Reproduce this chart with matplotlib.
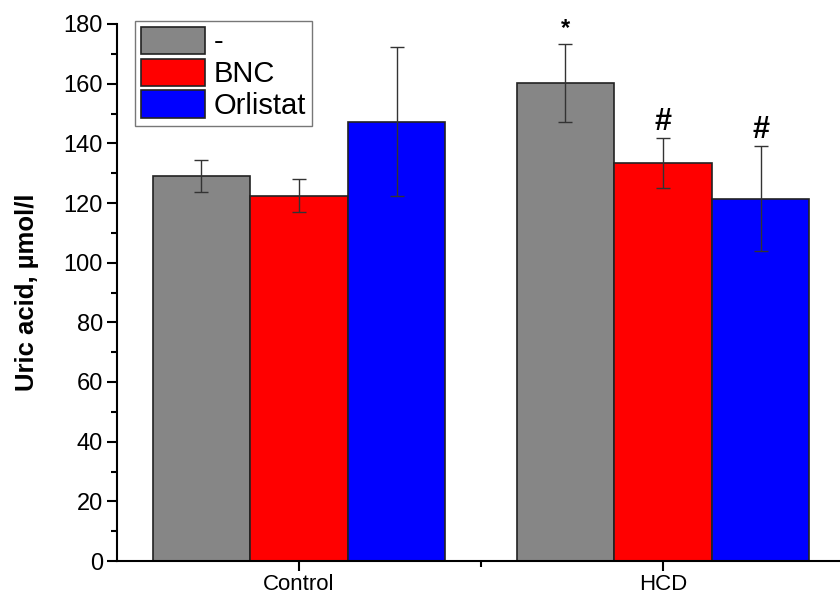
import matplotlib
matplotlib.use("Agg")
import matplotlib.pyplot as plt
import numpy as np
from matplotlib.ticker import MultipleLocator, FixedLocator

plt.rcParams['font.family'] = ['Liberation Sans', 'DejaVu Sans']

categories = ["Control", "HCD"]
series_names = ["-", "BNC", "Orlistat"]
colors = ["#868686", "#ff0000", "#0000ff"]
values = {
    "-": [129.0, 160.2],
    "BNC": [122.4, 133.4],
    "Orlistat": [147.3, 121.5],
}
errors = {
    "-": [5.3, 13.0],
    "BNC": [5.5, 8.3],
    "Orlistat": [25.0, 17.7],
}
annotations = {
    ("-", 1): "*",
    ("BNC", 1): "#",
    ("Orlistat", 1): "#",
}

fig = plt.figure(figsize=(8.4, 6.0), dpi=100)
ax = fig.add_axes([117/840, 1 - 561/600, 728/840, (561-24)/600])

x = np.arange(len(categories))
width = 0.268
for i, name in enumerate(series_names):
    pos = x + (i - 1) * width
    ax.bar(pos, values[name], width=width, color=colors[i], edgecolor="#222222",
           linewidth=1.2, label=name, zorder=2)
    ax.errorbar(pos, values[name], yerr=errors[name], fmt="none", ecolor="#333333",
                elinewidth=1.0, capsize=5, capthick=1.0, zorder=3)
    for j in range(len(categories)):
        key = (name, j)
        if key in annotations:
            sym = annotations[key]
            top = values[name][j] + errors[name][j]
            if sym == "*":
                ax.text(pos[j], top + 1.5, sym, ha="center", va="bottom", fontsize=17, fontweight="bold")
            else:
                ax.text(pos[j], top + 0.3, sym, ha="center", va="bottom", fontsize=22, fontweight="bold")

ax.set_xlim(-0.5, 1.5)
ax.set_ylim(0, 180)
ax.spines["top"].set_visible(False)
ax.spines["right"].set_visible(False)
ax.spines["left"].set_linewidth(1.5)
ax.spines["bottom"].set_linewidth(1.5)

ax.set_xticks(x)
ax.set_xticklabels(categories, fontsize=16)
ax.xaxis.set_minor_locator(FixedLocator([0.5]))
ax.yaxis.set_major_locator(MultipleLocator(20))
ax.yaxis.set_minor_locator(MultipleLocator(10))
ax.tick_params(axis="y", which="major", direction="out", length=7, width=1.5, labelsize=17, pad=3)
ax.tick_params(axis="y", which="minor", direction="out", length=4, width=1.5)
ax.tick_params(axis="x", which="major", direction="out", length=7.5, width=1.5, pad=2)
ax.tick_params(axis="x", which="minor", direction="out", length=4, width=1.5)

ax.set_ylabel("Uric acid, µmol/l", fontsize=18.5, fontweight="bold", labelpad=18)

leg = ax.legend(loc="upper left", bbox_to_anchor=(18/728, 1 + 3/537), fontsize=21,
                frameon=True, fancybox=False, edgecolor="#555555",
                handlelength=2.2, handleheight=1.05, labelspacing=0.08,
                handletextpad=0.3, borderpad=0.2, borderaxespad=0.0)
leg.get_frame().set_linewidth(1.0)

fig.savefig("out.png", dpi=100)
